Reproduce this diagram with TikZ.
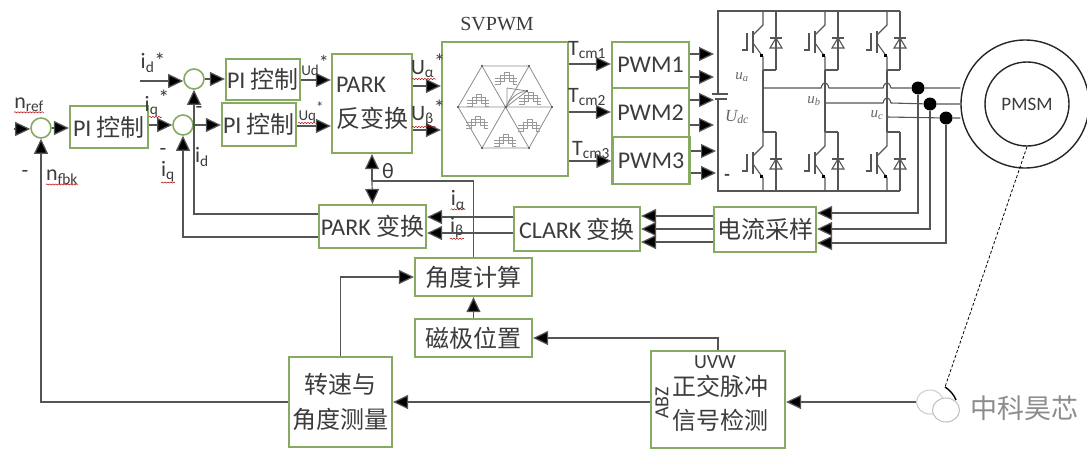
\documentclass[tikz,border=0pt]{standalone}
\usepackage{fontspec}
\setmainfont{Carlito}
\newfontfamily\cjk{Noto Sans CJK SC}
\newfontfamily\serif{Liberation Serif}
\usetikzlibrary{arrows.meta,decorations.pathmorphing,shapes.geometric}
\definecolor{boxgreen}{RGB}{134,170,98}
\definecolor{wiregray}{RGB}{85,85,85}
\definecolor{textgray}{RGB}{60,60,60}
\tikzset{
  block/.style={draw=boxgreen, line width=2.2pt, fill=white, inner sep=0pt, text=textgray, font=\fontsize{24}{28}\selectfont},
  junction/.style={circle, draw=boxgreen, line width=1.6pt, fill=white, minimum size=20pt, inner sep=0pt},
  wire/.style={draw=wiregray, line width=1.2pt},
  feed/.style={wire, -{Triangle[length=15pt,width=14pt,fill=black]}},
  tag/.style={text=textgray, inner sep=0pt, font=\fontsize{22}{24}\selectfont},
  smalltag/.style={text=textgray, inner sep=0pt, font=\fontsize{15}{18}\selectfont},
  spell/.style={draw=red!70!black, line width=0.5pt, decorate, decoration={snake, amplitude=0.6pt, segment length=3pt}},
  tap/.style={circle, fill=black, minimum size=13pt, inner sep=0pt},
  hexline/.style={draw=black!45, line width=0.8pt},
  hexwave/.style={draw=black!40, line width=0.5pt},
  leg/.style={draw=wiregray, line width=1.1pt},
  invtag/.style={text=black!60, inner sep=0pt, font=\serif\itshape\fontsize{15}{17}\selectfont}
}
\begin{document}
\begin{tikzpicture}[x=1pt, y=-1pt]
    \useasboundingbox (0,0) rectangle (1087,450);
    % Speed and current loop
    \node[junction] (sum0) at (41,128) {};
    \node[junction] (sum1) at (194,79) {};
    \node[junction] (sum2) at (183,125) {};
    \node[block, minimum width=78pt, minimum height=42pt] (pi0) at (109,127) {PI {\cjk 控制}};
    \node[block, minimum width=74pt, minimum height=41pt] (pi1) at (263,79.5) {PI {\cjk 控制}};
    \node[block, minimum width=74pt, minimum height=43pt] (pi2) at (259,124.5) {PI {\cjk 控制}};
    \node[block, minimum width=80pt, minimum height=99pt, align=left] (parkinv) at (372,103.5) {PARK\\[7pt]{\cjk 反变换}};
    % SVPWM and gate signals
    \node[block, minimum width=126pt, minimum height=134pt] (svpwm) at (505,109) {};
    \node[text=textgray, inner sep=0pt, font=\serif\fontsize{20}{24}\selectfont] (svtitle) at (497,24) {SVPWM};
    \node[block, minimum width=77pt, minimum height=46pt] (pwm1) at (650.5,65) {PWM1};
    \node[block, minimum width=77pt, minimum height=49pt] (pwm2) at (650.5,112.5) {PWM2};
    \node[block, minimum width=77pt, minimum height=47pt] (pwm3) at (651,160.5) {PWM3};
    % Hexagon
    \draw[hexline] (482,66) -- (529,66) -- (552,107) -- (529,148) -- (482,148) -- (458,107) -- cycle;
    \draw[hexline] (482,66) -- (529,148) (529,66) -- (482,148) (458,107) -- (552,107);
    \draw[hexline] (506,107) .. controls (512,95) and (522,90) .. (528,92);
    \draw[hexline] (506,107) -- (527,91) (507,88) -- (507,107) (507,88) -- (527,91);
    \foreach \hx/\hy in {506/78, 478/100, 530/98, 477/122, 529/125, 505/140} {
      \foreach \hs in {-3,0,3} {
        \draw[hexwave] (\hx-11,\hy+\hs+3) -- (\hx-6,\hy+\hs+3) -- (\hx-6,\hy+\hs) -- (\hx-2,\hy+\hs) -- (\hx-2,\hy+\hs-3) -- (\hx+3,\hy+\hs-3) -- (\hx+3,\hy+\hs) -- (\hx+7,\hy+\hs) -- (\hx+7,\hy+\hs+3) -- (\hx+11,\hy+\hs+3);
      }
    }
    \foreach \hx/\hy in {482/66, 529/66, 552/107, 529/148, 482/148, 458/107, 506/107, 527/91} {
      \fill[black!60] (\hx-1.3,\hy-1.3) rectangle (\hx+1.3,\hy+1.3);
    }
    % Inverter
    \draw[leg] (718,93) -- (718,11) -- (900,11) (718,99) -- (718,191) -- (900,191);
    \draw[leg] (712,94) -- (728,94) (715,99) -- (727,99);
    \foreach \lx in {763,825,887} {
      \foreach \ly in {11,132} {
        \draw[leg] (\lx,\ly) -- (\lx,\ly+14) -- (\lx-10,\ly+24);
        \draw[leg] (\lx-10,\ly+32) -- (\lx,\ly+46) -- (\lx,\ly+59);
        \draw[leg] (\lx-10,\ly+20) -- (\lx-10,\ly+42);
        \draw[leg] (\lx-21,\ly+39) -- (\lx-16,\ly+39) -- (\lx-16,\ly+22);
        \fill[black] (\lx-3,\ly+43) rectangle (\lx,\ly+46);
        \draw[leg] (\lx+13,\ly) -- (\lx+13,\ly+59) (\lx,\ly+59) -- (\lx+13,\ly+59);
        \draw[leg] (\lx+7,\ly+37) -- (\lx+19,\ly+37) -- (\lx+13,\ly+27) -- cycle;
        \draw[leg] (\lx+7,\ly+27) -- (\lx+19,\ly+27);
      }
      \draw[leg] (\lx,70) -- (\lx,132);
    }
    \draw[leg] (763,132) -- (776,132) (825,132) -- (838,132) (887,132) -- (900,132);
    \node[invtag] (ua) at (742,77) {u\textsubscript{a}};
    \node[invtag] (ub) at (814,101) {u\textsubscript{b}};
    \node[invtag] (uc) at (877,115) {u\textsubscript{c}};
    \node[invtag, font=\serif\itshape\fontsize{17}{19}\selectfont] (udc) at (737,117) {U\textsubscript{dc}};
    \node[tag, font=\bfseries\fontsize{18}{20}\selectfont] (uminus) at (727,177) {-};
    % Motor
    \node[circle, draw=black!85, line width=1.4pt, minimum size=128pt, inner sep=0pt] (motor) at (1025,104) {};
    \node[circle, draw=black!85, line width=1.4pt, minimum size=84pt, inner sep=0pt, text=textgray, font=\fontsize{19}{22}\selectfont] (rotor) at (1027,104) {PMSM};
    \node[tap] (tapa) at (918,88) {};
    \node[tap] (tapb) at (930,104) {};
    \node[tap] (tapc) at (946,118) {};
    \draw[leg] (763,88) -- (821,88) .. controls (823,81) and (827,81) .. (829,88) -- (883,88) .. controls (885,81) and (889,81) .. (891,88) -- (tapa) -- (motor.west |- tapa);
    \draw[leg] (825,103) -- (883,103) .. controls (885,96) and (889,96) .. (891,103) -- (tapb) -- (motor.west |- tapb);
    \draw[leg] (887,117) -- (tapc) -- (motor.west |- tapc);
    % Feedback blocks
    \node[block, minimum width=107pt, minimum height=43pt] (park) at (372.5,226.5) {PARK {\cjk 变换}};
    \node[block, minimum width=126pt, minimum height=44pt] (clark) at (577,229) {CLARK {\cjk 变换}};
    \node[block, minimum width=102pt, minimum height=45pt] (sampler) at (765,229.5) {\cjk 电流采样};
    \node[block, minimum width=117pt, minimum height=38pt] (angle) at (473.5,277) {\cjk 角度计算};
    \node[block, minimum width=117pt, minimum height=38pt] (pole) at (473.5,338) {\cjk 磁极位置};
    \node[block, minimum width=103pt, minimum height=90pt, align=center] (speed) at (340.5,402) {\cjk 转速与\\[7pt]\cjk 角度测量};
    \node[block, minimum width=134pt, minimum height=97pt, align=center] (uvw) at (718,399.5) {};
    \node[text=textgray, inner sep=0pt, align=center, font=\cjk\fontsize{24}{28}\selectfont] (uvwtext) at (720,403) {正交脉冲\\[6pt]信号检测};
    \node[tag, font=\fontsize{20}{22}\selectfont] (uvwtop) at (715,362) {UVW};
    \node[tag, rotate=90, font=\fontsize{20}{22}\selectfont] (abz) at (662,403) {ABZ};
    % Watermark
    \node[ellipse, draw=black!20, fill=white, line width=1pt, minimum width=27pt, minimum height=24pt, inner sep=0pt] (logoa) at (930,402) {};
    \node[ellipse, draw=black!25, fill=white, line width=1pt, minimum width=27pt, minimum height=24pt, inner sep=0pt] (logob) at (946,410) {};
    \node[text=black!45, inner sep=0pt, font=\cjk\fontsize{27}{30}\selectfont] (mark) at (1024,408) {中科昊芯};
    \coordinate (enctop) at (945,387);
    \coordinate (encend) at (956,400);
    % Connectors, forward path
    \coordinate (nin) at (14,129);
    \coordinate (idin) at (140,81);
    \draw[feed] (nin) -- (sum0.west |- nin);
    \draw[feed] (sum0) -- (pi0.west |- sum0);
    \draw[feed] (pi0.east |- sum2) -- (sum2);
    \draw[feed] (idin) -- (sum1.west |- idin);
    \draw[feed] (sum1) -- (pi1.west |- sum1);
    \draw[feed] (sum2) -- (pi2.west |- sum2);
    \draw[feed] (pi1.east |- 0,80) -- (parkinv.west |- 0,80);
    \draw[feed] (pi2.east |- 0,126) -- (parkinv.west |- 0,126);
    \draw[feed] (parkinv.east |- 0,86) -- (svpwm.west |- 0,86);
    \draw[feed] (parkinv.east |- 0,130) -- (svpwm.west |- 0,130);
    \draw[feed] (svpwm.east |- 0,64) -- (pwm1.west |- 0,64);
    \draw[feed] (svpwm.east |- 0,112) -- (pwm2.west |- 0,112);
    \draw[feed] (svpwm.east |- 0,161) -- (pwm3.west |- 0,161);
    \draw[feed] (pwm1.east |- 0,54) -- (714,54);
    \draw[feed] (pwm1.east |- 0,77) -- (714,77);
    \draw[feed] (pwm2.east |- 0,100) -- (714,100);
    \draw[feed] (pwm2.east |- 0,125) -- (714,125);
    \draw[feed] (pwm3.east |- 0,151) -- (716,151);
    \draw[feed] (pwm3.east |- 0,173) -- (716,173);
    % Connectors, feedback path
    \draw[feed] (tapa) -- (tapa |- 0,213) -- (sampler.east |- 0,213);
    \draw[feed] (tapb) -- (tapb |- 0,229) -- (sampler.east |- 0,229);
    \draw[feed] (tapc) -- (tapc |- 0,243) -- (sampler.east |- 0,243);
    \draw[feed] (sampler.west |- 0,216) -- (clark.east |- 0,216);
    \draw[feed] (sampler.west |- 0,229) -- (clark.east |- 0,229);
    \draw[feed] (sampler.west |- 0,242) -- (clark.east |- 0,242);
    \draw[feed] (clark.west |- 0,217) -- (park.east |- 0,217);
    \draw[feed] (clark.west |- 0,233) -- (park.east |- 0,233);
    \draw[feed] (park.west |- 0,214) -- (sum1.south |- 0,214) -- (sum1.south);
    \draw[feed] (park.west |- 0,237) -- (sum2.south |- 0,237) -- (sum2.south);
    \coordinate (thetanode) at (372,181);
    \draw[wire] (angle.north) -- (angle.north |- thetanode) -- (thetanode);
    \draw[feed] (thetanode) -- (parkinv.south);
    \draw[feed] (thetanode) -- (park.north);
    \draw[feed] (pole) -- (angle);
    \draw[feed] (speed.north) -- (speed.north |- angle) -- (angle.west);
    \draw[feed] (uvw.north) -- (uvw.north |- pole) -- (pole.east);
    \draw[feed] (uvw.west |- speed) -- (speed.east);
    \draw[feed] (speed.west) -- (sum0.south |- speed) -- (sum0.south);
    \draw[feed] (logoa.west) -- (uvw.east |- logoa.west);
    \draw[densely dashed, line width=0.8pt] (rotor.south) -- (enctop);
    \draw[line width=1.4pt] (enctop) .. controls (950,390) and (954,395) .. (encend);
    % Labels
    \node[tag] (nref) at (29,105) {n\textsubscript{ref}};
    \node[tag] (idstar) at (153,63) {i\textsubscript{d}*};
    \node[tag] (iqstar) at (157,103) {i\textsubscript{q}\raisebox{6pt}{*}};
    \node[tag] (minusa) at (199,110) {-};
    \node[tag] (minusb) at (163,152) {-};
    \node[tag] (iqfb) at (168,172) {i\textsubscript{q}};
    \node[tag] (idfb) at (202,157) {i\textsubscript{d}};
    \node[tag] (minusc) at (25,174) {-};
    \node[tag] (nfbk) at (62,177) {n\textsubscript{fbk}};
    \node[smalltag] (ud) at (315,65) {Ud\raisebox{6pt}{\fontsize{20}{20}\selectfont *}};
    \node[smalltag] (uq) at (311,112) {Uq\raisebox{8pt}{*}};
    \node[tag] (ualpha) at (428,66) {U\textsubscript{α}\raisebox{5pt}{*}};
    \node[tag] (ubeta) at (428,113) {U\textsubscript{β}\raisebox{5pt}{*}};
    \node[tag] (tcma) at (587,50) {T\textsubscript{cm1}};
    \node[tag] (tcmb) at (587,97) {T\textsubscript{cm2}};
    \node[tag] (tcmc) at (591,150) {T\textsubscript{cm3}};
    \node[tag] (theta) at (388,171) {θ};
    \node[tag] (ialpha) at (458,200) {i\textsubscript{α}};
    \node[tag] (ibeta) at (457,228) {i\textsubscript{β}};
    % Spelling marks
    \draw[spell] (nref.south west) -- (nref.south east);
    \draw[spell] (nfbk.south west) -- (nfbk.south east);
    \draw[spell] (iqfb.south west) -- (iqfb.south east);
    \draw[spell] (149,117) -- (162,117);
    \draw[spell] (298,123) -- (316,123);
    \draw[spell] (412,79) -- (436,79);
    \draw[spell] (412,127) -- (436,127);
    \draw[spell] (ialpha.south west) -- (ialpha.south east);
    \draw[spell] (ibeta.south west) -- (ibeta.south east);
\end{tikzpicture}
\end{document}
